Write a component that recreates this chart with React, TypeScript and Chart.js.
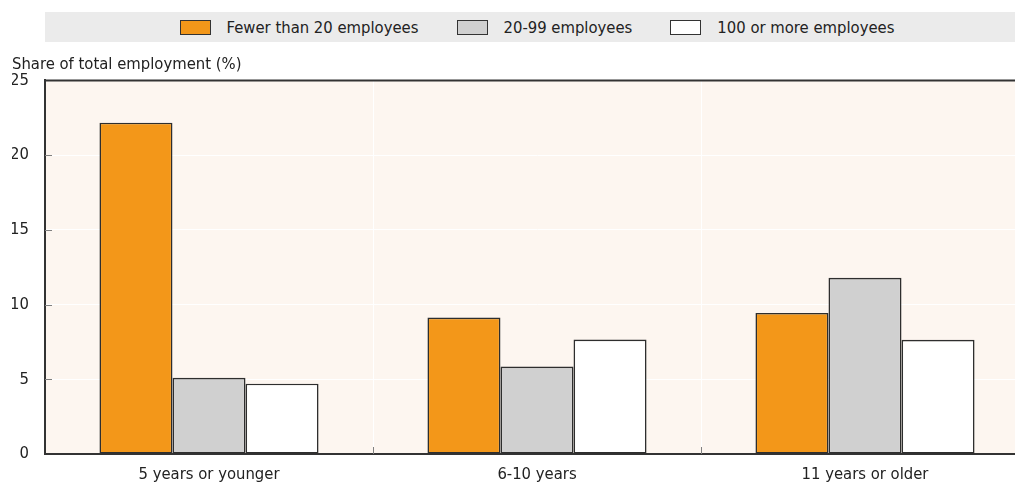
import React, { useEffect, useRef } from "react";
import { Chart, registerables } from "chart.js";

Chart.register(...registerables);

// ---- Data ----
const categories = ["5 years or younger", "6-10 years", "11 years or older"];
const seriesNames = ["Fewer than 20 employees", "20-99 employees", "100 or more employees"];
const fewerThan20 = [22.17, 9.13, 9.44];
const from20to99 = [5.1, 5.85, 11.79];
const over100 = [4.7, 7.66, 7.64];
const yTicks = [0, 5, 10, 15, 20, 25];
const yTitle = "Share of total employment (%)";

// ---- Styles ----
const seriesColors = ["#F39719", "#D0D0D0", "#FFFFFF"];
const FONT = "'DejaVu Sans Condensed', 'Liberation Sans Narrow', 'Liberation Sans', sans-serif";
const FONT_SIZE = 16.5;
const TEXT = "#222222";

const decorPlugin = {
  id: "decor",
  beforeDraw(chart: any) {
    const { ctx, chartArea } = chart;
    const { left, top, right, bottom } = chartArea;
    ctx.save();
    ctx.fillStyle = "#FDF6F0";
    ctx.fillRect(left, top, right - left, bottom - top);
    ctx.restore();
  },
  afterDraw(chart: any) {
    const { ctx, chartArea } = chart;
    const y = chart.scales.y;
    const x = chart.scales.x;
    ctx.save();
    ctx.strokeStyle = "#808080";
    ctx.lineWidth = 1;
    yTicks.forEach((v) => {
      if (v === yTicks[0] || v === yTicks[yTicks.length - 1]) return;
      const py = Math.round(y.getPixelForValue(v)) + 0.5;
      ctx.beginPath();
      ctx.moveTo(chartArea.left, py);
      ctx.lineTo(chartArea.left + 7, py);
      ctx.stroke();
    });
    for (let i = 1; i < categories.length; i++) {
      const px = Math.round((x.getPixelForTick(i - 1) + x.getPixelForTick(i)) / 2) + 0.5;
      ctx.beginPath();
      ctx.moveTo(px, chartArea.bottom);
      ctx.lineTo(px, chartArea.bottom - 7);
      ctx.stroke();
    }
    // top frame line
    ctx.strokeStyle = "#333333";
    ctx.lineWidth = 2;
    const ty = y.getPixelForValue(yTicks[yTicks.length - 1]);
    ctx.beginPath();
    ctx.moveTo(chartArea.left - 1, ty);
    ctx.lineTo(chartArea.right, ty);
    ctx.stroke();
    ctx.restore();
  },
};

export default function App() {
  const canvasRef = useRef<HTMLCanvasElement | null>(null);

  useEffect(() => {
    document.body.style.margin = "0";
    const canvas = canvasRef.current;
    if (!canvas) return;
    const values = [fewerThan20, from20to99, over100];
    const chart = new Chart(canvas, {
      type: "bar",
      data: {
        labels: categories,
        datasets: seriesNames.map((name, i) => ({
          label: name,
          data: values[i],
          backgroundColor: seriesColors[i],
          borderColor: "#2E2E2E",
          borderWidth: 1.6,
          borderSkipped: false,
          categoryPercentage: 0.668,
          barPercentage: 1,
        })),
      },
      options: {
        animation: false,
        responsive: false,
        devicePixelRatio: 1,
        layout: { padding: { left: 12, right: 11, top: 45, bottom: 0 } },
        plugins: {
          legend: { display: false },
          tooltip: { enabled: false },
          title: {
            display: true,
            text: yTitle,
            align: "start",
            position: "top",
            color: TEXT,
            font: { family: FONT, size: FONT_SIZE, weight: "normal", lineHeight: 1.2 },
            padding: { top: 10, bottom: 5.6 },
          },
        },
        scales: {
          x: {
            grid: {
              offset: true,
              drawTicks: false,
              lineWidth: 1,
              color: (c: any) =>
                c.index >= 1 && c.index < categories.length ? "#FFFFFF" : "rgba(0,0,0,0)",
            },
            border: { display: true, color: "#333333", width: 2 },
            ticks: {
              color: TEXT,
              font: { family: FONT, size: FONT_SIZE },
              padding: 11,
              maxRotation: 0,
            },
            afterFit: (scale: any) => {
              scale.height = 33;
            },
          },
          y: {
            min: yTicks[0],
            max: yTicks[yTicks.length - 1],
            grid: {
              drawTicks: false,
              lineWidth: 1,
              color: (c: any) => {
                const v = c.tick ? c.tick.value : null;
                return v === yTicks[0] || v === yTicks[yTicks.length - 1] ? "rgba(0,0,0,0)" : "#FFFFFF";
              },
            },
            border: { display: true, color: "#333333", width: 2 },
            ticks: {
              stepSize: 5,
              color: TEXT,
              font: { family: FONT, size: FONT_SIZE },
              padding: 16,
            },
            afterFit: (scale: any) => {
              scale.width = 33;
            },
          },
        },
      },
      plugins: [decorPlugin],
    });
    return () => chart.destroy();
  }, []);

  return (
    <div style={{ position: "relative", width: 1015, height: 487, overflow: "hidden", background: "#FFFFFF" }}>
      <canvas ref={canvasRef} width={1040} height={487} style={{ position: "absolute", left: 0, top: 0 }} />
      <div
        style={{
          position: "absolute",
          left: 45,
          top: 12,
          width: 984,
          height: 30,
          background: "#EBEBEB",
          display: "flex",
          alignItems: "center",
          justifyContent: "center",
          fontFamily: FONT,
          fontSize: FONT_SIZE,
          color: TEXT,
          whiteSpace: "nowrap",
        }}
      >
        {seriesNames.map((name, i) => (
          <div key={name} style={{ display: "flex", alignItems: "center", marginLeft: i ? 38 : 0 }}>
            <span
              style={{
                display: "inline-block",
                width: 31,
                height: 15,
                boxSizing: "border-box",
                border: "1px solid #333333",
                background: seriesColors[i],
                marginRight: 16,
              }}
            />
            <span>{name}</span>
          </div>
        ))}
      </div>
    </div>
  );
}
